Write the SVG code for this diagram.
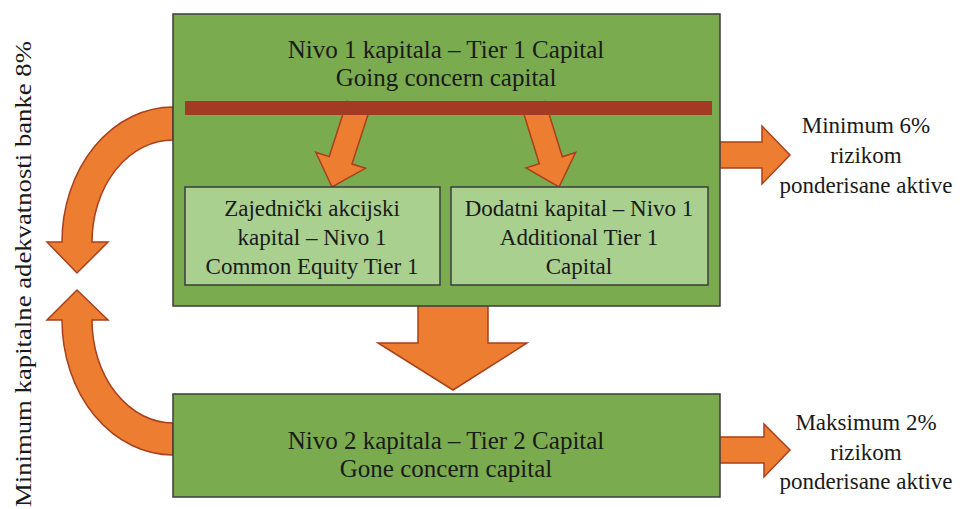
<svg xmlns="http://www.w3.org/2000/svg" width="960" height="509" viewBox="0 0 960 509">
<style>
.arrow{fill:#ed7d31;stroke:#a8401c;stroke-width:1.5;stroke-linejoin:miter}
.box{fill:#7bab4f;stroke:#3c3c3c;stroke-width:1.5}
.inner{fill:#a9d08e;stroke:#3c3c3c;stroke-width:1.5}
.t{fill:#1a1a1a;text-anchor:middle}
.t25{font-size:25px}
.t23{font-size:23px}
</style>
<rect width="960" height="509" fill="#ffffff"/>
<g id="connectors">
  <path class="arrow" d="M173,107 A111,135 0 0 0 62,242 L47,242 L77,273 L108,242 L92,242 A81,102 0 0 1 173,140 Z"/>
  <path class="arrow" d="M77,290 L108,320 L92,320 A81,103 0 0 0 173,423 L173,455 A111,135 0 0 1 62,320 L47,320 Z"/>
  <polygon class="arrow" points="418,300 488,300 488,343 527,343 453,390 378,343 418,343"/>
  <polygon class="arrow" points="716,142 762,142 762,126 790,155 762,184 762,168 716,168"/>
  <polygon class="arrow" points="716,437 764,437 764,424 790,450 764,477 764,463 716,463"/>
</g>
<g font-family="Liberation Serif, DejaVu Serif, Noto Serif, serif">
<g id="tier1">
  <rect class="box" x="173" y="14" width="547" height="292"/>
  <text class="t t25" x="446" y="58">Nivo 1 kapitala – Tier 1 Capital</text>
  <text class="t t25" x="446" y="86">Going concern capital</text>
</g>
<g id="inner-arrows">
  <polygon class="arrow" points="347.1,101.3 369.9,108.7 352.0,164.0 365.4,168.3 332,187 315.8,152.3 329.2,156.6"/>
  <polygon class="arrow" points="522.2,108.5 545.2,101.5 562.3,156.7 575.6,152.5 559,187 526.0,167.9 539.3,163.7"/>
</g>
<g id="bar">
  <rect x="185" y="101" width="527" height="14" fill="#a33a24"/>
</g>
<g id="cet1">
  <rect class="inner" x="185" y="187" width="255" height="98"/>
  <text class="t t23" x="312" y="216">Zajednički akcijski</text>
  <text class="t t23" x="312" y="245">kapital – Nivo 1</text>
  <text class="t t23" x="312" y="274">Common Equity Tier 1</text>
</g>
<g id="at1">
  <rect class="inner" x="451" y="187" width="257" height="98"/>
  <text class="t t23" x="579" y="216">Dodatni kapital – Nivo 1</text>
  <text class="t t23" x="579" y="245">Additional Tier 1</text>
  <text class="t t23" x="579" y="274">Capital</text>
</g>
<g id="tier2">
  <rect class="box" x="173" y="394" width="547" height="103"/>
  <text class="t t25" x="446" y="449">Nivo 2 kapitala – Tier 2 Capital</text>
  <text class="t t25" x="446" y="477">Gone concern capital</text>
</g>
<g id="label-min6">
  <text class="t t23" x="866" y="133">Minimum 6%</text>
  <text class="t t23" x="866" y="163">rizikom</text>
  <text class="t t23" x="866" y="193">ponderisane aktive</text>
</g>
<g id="label-max2">
  <text class="t t23" x="866" y="430">Maksimum 2%</text>
  <text class="t t23" x="866" y="460">rizikom</text>
  <text class="t t23" x="866" y="489">ponderisane aktive</text>
</g>
<g id="label-left">
  <text class="t" font-size="24" transform="translate(31,274) rotate(-90)" textLength="466" lengthAdjust="spacingAndGlyphs">Minimum kapitalne adekvatnosti banke 8%</text>
</g>
</g>
</svg>
